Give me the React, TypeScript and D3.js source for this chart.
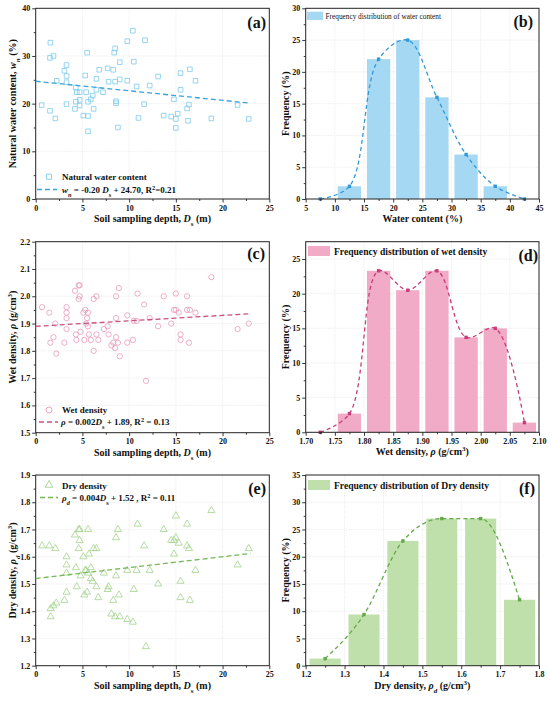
import React, { useEffect, useRef } from "react";
import * as d3 from "d3";

// ---- data ----

// (a) natural water content vs depth: [depth (m), w (%)]
const waterPoints: [number, number][] = [
  [0.64, 19.7], [1.57, 32.8], [1.53, 29.6], [1.9, 30.0], [1.53, 18.5], [2.1, 16.9],
  [2.25, 24.8], [3.07, 26.9], [3.3, 28.1], [3.3, 25.8], [3.3, 24.5], [3.3, 19.9],
  [4.3, 23.4], [4.4, 22.4], [4.3, 20.4], [4.2, 18.9], [4.7, 19.6], [4.7, 20.8],
  [4.7, 22.4], [5.3, 25.9], [5.4, 22.4], [5.1, 17.5], [5.5, 30.7], [5.6, 20.4],
  [5.6, 17.4], [5.6, 14.2], [5.9, 20.9], [6.1, 21.7], [6.2, 18.9], [6.5, 25.2],
  [6.5, 22.9], [6.8, 27.1], [7.2, 22.4], [7.8, 24.6], [7.7, 27.4], [8.3, 27.1],
  [8.4, 30.7], [8.5, 31.6], [8.5, 24.6], [8.6, 20.5], [8.6, 20.1], [8.8, 15.0],
  [9.0, 28.7], [9.0, 25.1], [9.8, 33.1], [9.8, 24.8], [10.4, 35.3], [10.5, 28.8],
  [10.8, 23.6], [11.0, 17.0], [11.6, 19.9], [11.7, 33.3], [12.2, 23.8], [13.1, 25.7],
  [13.7, 17.5], [14.5, 17.3], [14.8, 20.9], [15.0, 16.8], [15.0, 14.9], [15.2, 17.9],
  [15.5, 26.4], [15.5, 22.9], [16.2, 19.0], [16.3, 16.4], [16.4, 19.8], [16.5, 27.2],
  [17.1, 24.8], [18.8, 16.9], [21.6, 19.7], [22.8, 16.8],
];

// (c) wet density vs depth: [depth (m), rho (g/cm3)]
const wetPoints: [number, number][] = [
  [0.68, 1.96], [1.46, 1.94], [1.57, 1.83], [1.9, 1.85], [2.1, 1.9], [2.2, 1.79],
  [3.07, 1.83], [3.3, 1.96], [3.3, 1.94], [3.3, 1.92], [3.3, 1.88], [4.2, 2.02],
  [4.3, 1.86], [4.35, 1.84], [4.6, 2.04], [4.7, 2.04], [4.7, 2.0], [4.6, 1.99],
  [4.8, 1.87], [5.1, 1.94], [5.3, 1.95], [5.4, 1.9], [5.2, 1.84], [5.5, 1.92],
  [5.6, 1.94], [5.7, 1.86], [5.6, 1.89], [5.9, 1.84], [6.2, 1.99], [6.2, 1.8],
  [6.5, 2.0], [6.5, 1.86], [6.7, 1.84], [7.3, 1.88], [7.8, 1.86], [7.7, 1.89],
  [8.1, 1.82], [8.3, 1.83], [8.5, 1.81], [8.6, 2.0], [8.6, 1.92], [8.6, 1.85],
  [8.8, 1.83], [8.9, 2.03], [9.0, 1.78], [9.8, 1.93], [9.8, 1.83], [10.4, 1.84],
  [10.5, 1.91], [10.8, 1.91], [10.9, 2.01], [11.6, 1.97], [11.8, 1.69], [12.2, 1.92],
  [13.1, 1.89], [13.7, 2.0], [14.5, 1.9], [14.8, 1.95], [15.0, 1.95], [15.0, 2.01],
  [15.3, 1.94], [15.5, 1.86], [15.5, 1.84], [16.2, 2.0], [16.2, 1.95], [16.5, 1.95],
  [16.4, 1.83], [17.1, 1.94], [18.8, 2.07], [21.6, 1.88], [22.8, 1.9],
];

// (e) dry density vs depth: [depth (m), rho_d (g/cm3)]
const dryPoints: [number, number][] = [
  [0.68, 1.64], [1.46, 1.64], [1.6, 1.38], [1.6, 1.41], [1.9, 1.42], [2.2, 1.43],
  [2.1, 1.63], [3.07, 1.44], [3.3, 1.47], [3.3, 1.54], [3.3, 1.57], [3.3, 1.6],
  [4.2, 1.68], [4.3, 1.56], [4.4, 1.49], [4.6, 1.7], [4.7, 1.7], [4.7, 1.66],
  [4.6, 1.63], [4.8, 1.53], [5.1, 1.6], [5.3, 1.55], [5.4, 1.55], [5.2, 1.46],
  [5.5, 1.47], [5.6, 1.7], [5.7, 1.61], [5.6, 1.54], [5.9, 1.56], [5.9, 1.52],
  [6.1, 1.51], [6.2, 1.63], [6.5, 1.63], [6.5, 1.49], [6.7, 1.45], [7.3, 1.54],
  [7.8, 1.49], [7.7, 1.48], [8.1, 1.39], [8.3, 1.44], [8.5, 1.38], [8.6, 1.67],
  [8.6, 1.53], [8.8, 1.7], [8.9, 1.46], [9.0, 1.38], [9.8, 1.55], [9.8, 1.37],
  [10.4, 1.36], [10.5, 1.48], [10.8, 1.55], [10.9, 1.72], [11.6, 1.64], [11.8, 1.27],
  [12.2, 1.55], [13.1, 1.5], [13.7, 1.7], [14.5, 1.66], [14.8, 1.66], [14.8, 1.61],
  [15.0, 1.75], [15.0, 1.67], [15.3, 1.65], [15.5, 1.51], [15.5, 1.45], [16.2, 1.72],
  [16.2, 1.64], [16.4, 1.63], [16.5, 1.44], [17.1, 1.55], [18.8, 1.77], [21.6, 1.57],
  [22.8, 1.63],
];

// linear fits [slope, intercept], drawn over depth 0..23
const waterFit = [-0.2, 24.7];
const wetFit = [0.002, 1.89];
const dryFit = [0.004, 1.52];
const fitRange = [0, 23];

// (b) water content histogram
const waterBins = [12.5, 17.5, 22.5, 27.5, 32.5, 37.5];
const waterFreq = [2, 22, 25, 16, 7, 2];
const waterCurveX = [7.5, 12.5, 17.5, 22.5, 27.5, 32.5, 37.5, 42.5];
const waterCurveY = [0, 2, 22, 25, 16, 7, 2, 0];

// (d) wet density histogram
const wetBins = [1.775, 1.825, 1.875, 1.925, 1.975, 2.025, 2.075];
const wetFreq = [2.7, 23.3, 20.5, 23.3, 13.7, 15.0, 1.4];
const wetCurveX = [1.725, 1.775, 1.825, 1.875, 1.925, 1.975, 2.025, 2.075];
const wetCurveY = [0, 2.7, 23.3, 20.5, 23.3, 13.7, 15.0, 1.4];

// (f) dry density histogram
const dryBins = [1.25, 1.35, 1.45, 1.55, 1.65, 1.75];
const dryFreq = [1.3, 9.4, 22.9, 27.0, 27.0, 12.1];

// tick labels
const depthTicks = [0, 5, 10, 15, 20, 25];
const waterTicks = [0, 10, 20, 30, 40];
const wetTicks = [1.5, 1.6, 1.7, 1.8, 1.9, 2.0, 2.1, 2.2];
const dryTicks = [1.2, 1.3, 1.4, 1.5, 1.6, 1.7, 1.8, 1.9];
const waterBinTicks = [5, 10, 15, 20, 25, 30, 35, 40, 45];
const wetBinTicks = [1.7, 1.75, 1.8, 1.85, 1.9, 1.95, 2.0, 2.05, 2.1];
const dryBinTicks = [1.2, 1.3, 1.4, 1.5, 1.6, 1.7, 1.8];
const freqTicksB = [0, 5, 10, 15, 20, 25, 30];
const freqTicksD = [0, 5, 10, 15, 20, 25];
const freqTicksF = [0, 5, 10, 15, 20, 25, 30, 35];

const FONT = "'Liberation Serif', 'Times New Roman', serif";

type Seg = { t: string; i?: boolean; sub?: boolean; sup?: boolean };
type Sel = d3.Selection<any, any, any, any>;
type Lin = d3.ScaleLinear<number, number>;

function rich(sel: Sel, segs: Seg[]) {
  segs.forEach((s) => {
    const ts = sel.append("tspan").text(s.t);
    if (s.i) ts.attr("font-style", "italic");
    if (s.sub || s.sup)
      ts.attr("font-size", "70%").attr("baseline-shift", s.sub ? "sub" : "super");
  });
}

function mids(t: number[]) {
  return t.slice(1).map((v, i) => (v + t[i]) / 2);
}

interface FrameOpts {
  x: Lin;
  y: Lin;
  xTicks: number[];
  yTicks: number[];
  xFmt: (d: number) => string;
  yFmt: (d: number) => string;
  xTitle: Seg[];
  yTitle: Seg[];
  yTitleX: number;
  label: string;
  labelX: number;
  labelY: number;
}

function drawGrid(svg: Sel, x: Lin, y: Lin, xTicks: number[], yTicks: number[]) {
  const [x0, x1] = x.range();
  const [yb, yt] = y.range();
  const g = svg.append("g").attr("stroke", "#e4e4e4").attr("stroke-width", 0.6).attr("stroke-dasharray", "1.5,1");
  g.selectAll("line.h")
    .data(yTicks.filter((d) => y(d) < yb - 1 && y(d) > yt + 1))
    .join("line")
    .attr("class", "h")
    .attr("x1", x0)
    .attr("x2", x1)
    .attr("y1", (d) => y(d))
    .attr("y2", (d) => y(d));
  g.selectAll("line.v")
    .data(xTicks.filter((d) => x(d) > x0 + 1 && x(d) < x1 - 1))
    .join("line")
    .attr("class", "v")
    .attr("x1", (d) => x(d))
    .attr("x2", (d) => x(d))
    .attr("y1", yt)
    .attr("y2", yb);
}

function drawFrame(svg: Sel, o: FrameOpts) {
  const [x0, x1] = o.x.range();
  const [yb, yt] = o.y.range();
  const g = svg.append("g");

  const style = (ax: Sel) => {
    ax.select(".domain").remove();
    ax.selectAll("line").attr("stroke", "#222").attr("stroke-width", 0.9);
    ax.selectAll("text")
      .attr("font-family", FONT)
      .attr("font-weight", "bold")
      .attr("font-size", 8)
      .attr("fill", "#111");
  };

  g.append("g")
    .attr("transform", `translate(0,${yb})`)
    .call(d3.axisBottom(o.x).tickValues(o.xTicks).tickSize(3.5).tickPadding(2.5).tickFormat(o.xFmt as any))
    .call(style);
  g.append("g")
    .attr("transform", `translate(0,${yb})`)
    .call(d3.axisBottom(o.x).tickValues(mids(o.xTicks)).tickSize(2).tickFormat(() => ""))
    .call(style);
  g.append("g")
    .attr("transform", `translate(${x0},0)`)
    .call(d3.axisLeft(o.y).tickValues(o.yTicks).tickSize(3.5).tickPadding(2).tickFormat(o.yFmt as any))
    .call(style);
  g.append("g")
    .attr("transform", `translate(${x0},0)`)
    .call(d3.axisLeft(o.y).tickValues(mids(o.yTicks)).tickSize(2).tickFormat(() => ""))
    .call(style);

  g.append("rect")
    .attr("x", x0)
    .attr("y", yt)
    .attr("width", x1 - x0)
    .attr("height", yb - yt)
    .attr("fill", "none")
    .attr("stroke", "#222")
    .attr("stroke-width", 1);

  rich(
    g.append("text")
      .attr("x", (x0 + x1) / 2)
      .attr("y", yb + 23)
      .attr("text-anchor", "middle")
      .attr("font-family", FONT)
      .attr("font-weight", "bold")
      .attr("font-size", 10)
      .attr("fill", "#111"),
    o.xTitle
  );
  rich(
    g.append("text")
      .attr("transform", `translate(${o.yTitleX},${(yb + yt) / 2}) rotate(-90)`)
      .attr("text-anchor", "middle")
      .attr("font-family", FONT)
      .attr("font-weight", "bold")
      .attr("font-size", 10)
      .attr("fill", "#111"),
    o.yTitle
  );
  g.append("text")
    .attr("x", o.labelX)
    .attr("y", o.labelY)
    .attr("text-anchor", "end")
    .attr("font-family", FONT)
    .attr("font-weight", "bold")
    .attr("font-size", 16)
    .attr("fill", "#111")
    .text(o.label);
}

function legendText(svg: Sel, x: number, y: number, segs: Seg[], size = 9, bold = true) {
  rich(
    svg.append("text")
      .attr("x", x)
      .attr("y", y)
      .attr("font-family", FONT)
      .attr("font-weight", bold ? "bold" : "normal")
      .attr("font-size", size)
      .attr("fill", "#111"),
    segs
  );
}

function clip(svg: Sel, id: string, x: Lin, y: Lin) {
  const [x0, x1] = x.range();
  const [yb, yt] = y.range();
  svg.append("clipPath")
    .attr("id", id)
    .append("rect")
    .attr("x", x0)
    .attr("y", yt)
    .attr("width", x1 - x0)
    .attr("height", yb - yt);
  return `url(#${id})`;
}

function scatterPanel(
  svg: Sel,
  pts: [number, number][],
  fit: number[],
  x: Lin,
  y: Lin,
  symbol: d3.SymbolType,
  size: number,
  ptColor: string,
  lineColor: string
) {
  const sym = d3.symbol().type(symbol).size(size);
  svg.append("g")
    .selectAll("path")
    .data(pts)
    .join("path")
    .attr("transform", (d) => `translate(${x(d[0])},${y(d[1])})`)
    .attr("d", sym as any)
    .attr("fill", "none")
    .attr("stroke", ptColor)
    .attr("stroke-width", 0.8);

  const line = d3.line<number>().x((d) => x(d)).y((d) => y(fit[0] * d + fit[1]));
  svg.append("path")
    .datum(fitRange)
    .attr("d", line)
    .attr("fill", "none")
    .attr("stroke", lineColor)
    .attr("stroke-width", 1.3)
    .attr("stroke-dasharray", "5,3");
}

function histPanel(
  svg: Sel,
  id: string,
  bins: number[],
  freq: number[],
  binW: number,
  cx: number[],
  cy: number[],
  x: Lin,
  y: Lin,
  barColor: string,
  lineColor: string,
  curve: d3.CurveFactory
) {
  svg.append("g")
    .selectAll("rect")
    .data(bins)
    .join("rect")
    .attr("x", (d) => x(d - binW * 0.4))
    .attr("width", (d) => x(d + binW * 0.4) - x(d - binW * 0.4))
    .attr("y", (_, i) => y(freq[i]))
    .attr("height", (_, i) => y(0) - y(freq[i]))
    .attr("fill", barColor);

  const pts = cx.map((v, i) => [v, cy[i]] as [number, number]);
  const line = d3.line<[number, number]>().x((d) => x(d[0])).y((d) => y(d[1])).curve(curve);
  svg.append("path")
    .datum(pts)
    .attr("d", line)
    .attr("clip-path", clip(svg, id, x, y))
    .attr("fill", "none")
    .attr("stroke", lineColor)
    .attr("stroke-width", 1.3)
    .attr("stroke-dasharray", "4,3");
  svg.append("g")
    .selectAll("rect")
    .data(pts)
    .join("rect")
    .attr("x", (d) => x(d[0]) - 1.7)
    .attr("y", (d) => y(d[1]) - 1.7)
    .attr("width", 3.4)
    .attr("height", 3.4)
    .attr("fill", lineColor);
}

const App: React.FC = () => {
  const svgRef = useRef<SVGSVGElement>(null);

  useEffect(() => {
    if (!svgRef.current) return;
    const svg = d3.select(svgRef.current);
    svg.selectAll("*").remove();

    const L: [number, number] = [35.7, 269.3];
    const R: [number, number] = [305.7, 539];
    const f1 = d3.format(".1f");
    const f2 = d3.format(".2f");
    const f0 = d3.format("d");
    const depthTitle: Seg[] = [{ t: "Soil sampling depth, " }, { t: "D", i: true }, { t: "s", sub: true }, { t: " (m)" }];
    const freqTitle: Seg[] = [{ t: "Frequency (%)" }];
    const spline = d3.curveCatmullRom.alpha(0.5);

    // (a)
    const xa = d3.scaleLinear().domain([0, 25]).range(L);
    const ya = d3.scaleLinear().domain([0, 40]).range([199, 8.3]);
    drawGrid(svg, xa, ya, depthTicks, waterTicks);
    drawFrame(svg, {
      x: xa, y: ya, xTicks: depthTicks, yTicks: waterTicks, xFmt: f0, yFmt: f0,
      xTitle: depthTitle,
      yTitle: [{ t: "Natural water content, " }, { t: "w", i: true }, { t: "n", i: true, sub: true }, { t: " (%)" }],
      yTitleX: 15.5, label: "(a)", labelX: 266, labelY: 28,
    });
    scatterPanel(svg, waterPoints, waterFit, xa, ya, d3.symbolSquare, 21, "#7ccaec", "#3aa3dc");
    svg.append("path")
      .attr("transform", `translate(49,176.7)`)
      .attr("d", d3.symbol().type(d3.symbolSquare).size(26)() as string)
      .attr("fill", "none").attr("stroke", "#7ccaec").attr("stroke-width", 0.9);
    legendText(svg, 62, 180, [{ t: "Natural water content" }]);
    svg.append("line").attr("x1", 37).attr("x2", 57).attr("y1", 189.5).attr("y2", 189.5)
      .attr("stroke", "#3aa3dc").attr("stroke-width", 1.3).attr("stroke-dasharray", "5,3");
    legendText(svg, 62, 192.5, [
      { t: "w", i: true }, { t: "n", i: true, sub: true }, { t: " = -0.20 " }, { t: "D", i: true },
      { t: "s", sub: true }, { t: " + 24.70, R" }, { t: "2", sup: true }, { t: "=0.21" },
    ]);

    // (b)
    const xb = d3.scaleLinear().domain([5, 45]).range(R);
    const yb = d3.scaleLinear().domain([0, 30]).range([199, 8.3]);
    drawGrid(svg, xb, yb, waterBinTicks, freqTicksB);
    histPanel(svg, "clipB", waterBins, waterFreq, 5, waterCurveX, waterCurveY, xb, yb, "#a5d9f3", "#3399d6", spline);
    drawFrame(svg, {
      x: xb, y: yb, xTicks: waterBinTicks, yTicks: freqTicksB, xFmt: f0, yFmt: f0,
      xTitle: [{ t: "Water content (%)" }], yTitle: freqTitle,
      yTitleX: 288.5, label: "(b)", labelX: 533, labelY: 27,
    });
    svg.append("rect").attr("x", 307).attr("y", 11.7).attr("width", 16).attr("height", 8.3).attr("fill", "#a5d9f3");
    legendText(svg, 325.5, 18.6, [{ t: "Frequency distribution of water content" }], 7.3, false);

    // (c)
    const xc = d3.scaleLinear().domain([0, 25]).range(L);
    const yc = d3.scaleLinear().domain([1.5, 2.2]).range([432.7, 241.7]);
    drawGrid(svg, xc, yc, depthTicks, wetTicks);
    drawFrame(svg, {
      x: xc, y: yc, xTicks: depthTicks, yTicks: wetTicks, xFmt: f0, yFmt: f1,
      xTitle: depthTitle,
      yTitle: [{ t: "Wet density, " }, { t: "ρ", i: true }, { t: " (g/cm" }, { t: "3", sup: true }, { t: ")" }],
      yTitleX: 15.5, label: "(c)", labelX: 265, labelY: 259,
    });
    scatterPanel(svg, wetPoints, wetFit, xc, yc, d3.symbolCircle, 22, "#e79bba", "#c9517f");
    svg.append("circle").attr("cx", 49).attr("cy", 410).attr("r", 3)
      .attr("fill", "none").attr("stroke", "#e79bba").attr("stroke-width", 0.9);
    legendText(svg, 62, 413.3, [{ t: "Wet density" }]);
    svg.append("line").attr("x1", 39).attr("x2", 58).attr("y1", 422).attr("y2", 422)
      .attr("stroke", "#c9517f").attr("stroke-width", 1.3).attr("stroke-dasharray", "5,3");
    legendText(svg, 61, 425, [
      { t: "ρ", i: true }, { t: " = 0.002" }, { t: "D", i: true }, { t: "s", sub: true },
      { t: " + 1.89, R" }, { t: "2", sup: true }, { t: " = 0.13" },
    ]);

    // (d)
    const xd = d3.scaleLinear().domain([1.7, 2.1]).range(R);
    const yd = d3.scaleLinear().domain([0, 27.5]).range([432.3, 241.7]);
    drawGrid(svg, xd, yd, wetBinTicks, freqTicksD);
    histPanel(svg, "clipD", wetBins, wetFreq, 0.05, wetCurveX, wetCurveY, xd, yd, "#f1abc7", "#c63d79", spline);
    drawFrame(svg, {
      x: xd, y: yd, xTicks: wetBinTicks, yTicks: freqTicksD, xFmt: f2, yFmt: f0,
      xTitle: [{ t: "Wet density,  " }, { t: "ρ", i: true }, { t: " (g/cm" }, { t: "3", sup: true }, { t: ")" }],
      yTitle: freqTitle, yTitleX: 288.5, label: "(d)", labelX: 538, labelY: 261,
    });
    svg.append("rect").attr("x", 308).attr("y", 246).attr("width", 22).attr("height", 10).attr("fill", "#f1abc7");
    legendText(svg, 334, 254.5, [{ t: "Frequency distribution of wet density" }], 9.6);

    // (e)
    const xe = d3.scaleLinear().domain([0, 25]).range(L);
    const ye = d3.scaleLinear().domain([1.2, 1.9]).range([665.7, 475]);
    drawGrid(svg, xe, ye, depthTicks, dryTicks);
    drawFrame(svg, {
      x: xe, y: ye, xTicks: depthTicks, yTicks: dryTicks, xFmt: f0, yFmt: f1,
      xTitle: depthTitle,
      yTitle: [{ t: "Dry density, " }, { t: "ρ", i: true }, { t: "d", i: true, sub: true }, { t: " (g/cm" }, { t: "3", sup: true }, { t: ")" }],
      yTitleX: 15.5, label: "(e)", labelX: 266, labelY: 494,
    });
    scatterPanel(svg, dryPoints, dryFit, xe, ye, d3.symbolTriangle, 22, "#a3d38b", "#75b85a");
    svg.append("path")
      .attr("transform", `translate(49,485)`)
      .attr("d", d3.symbol().type(d3.symbolTriangle).size(26)() as string)
      .attr("fill", "none").attr("stroke", "#a3d38b").attr("stroke-width", 0.9);
    legendText(svg, 62, 488.5, [{ t: "Dry density" }]);
    svg.append("line").attr("x1", 40).attr("x2", 58).attr("y1", 497.5).attr("y2", 497.5)
      .attr("stroke", "#75b85a").attr("stroke-width", 1.3).attr("stroke-dasharray", "5,3");
    legendText(svg, 62, 500.5, [
      { t: "ρ", i: true }, { t: "d", i: true, sub: true }, { t: " = 0.004" }, { t: "D", i: true },
      { t: "s", sub: true }, { t: " + 1.52 , R" }, { t: "2", sup: true }, { t: " = 0.11" },
    ]);

    // (f)
    const xf = d3.scaleLinear().domain([1.2, 1.8]).range(R);
    const yf = d3.scaleLinear().domain([0, 35]).range([665.7, 475]);
    drawGrid(svg, xf, yf, dryBinTicks, freqTicksF);
    histPanel(svg, "clipF", dryBins, dryFreq, 0.1, dryBins, dryFreq, xf, yf, "#bfe0aa", "#67a84a", d3.curveMonotoneX);
    drawFrame(svg, {
      x: xf, y: yf, xTicks: dryBinTicks, yTicks: freqTicksF, xFmt: f1, yFmt: f0,
      xTitle: [{ t: "Dry density, " }, { t: "ρ", i: true }, { t: "d", i: true, sub: true }, { t: " (g/cm" }, { t: "3", sup: true }, { t: ")" }],
      yTitle: freqTitle, yTitleX: 288.5, label: "(f)", labelX: 535, labelY: 494,
    });
    svg.append("rect").attr("x", 308).attr("y", 480).attr("width", 22).attr("height", 10).attr("fill", "#bfe0aa");
    legendText(svg, 334, 488.5, [{ t: "Frequency distribution of Dry density" }], 9.6);
  }, []);

  return (
    <svg
      ref={svgRef}
      width={550}
      height={703}
      style={{ position: "absolute", left: 0, top: 0, background: "#fff" }}
    />
  );
};

export default App;
